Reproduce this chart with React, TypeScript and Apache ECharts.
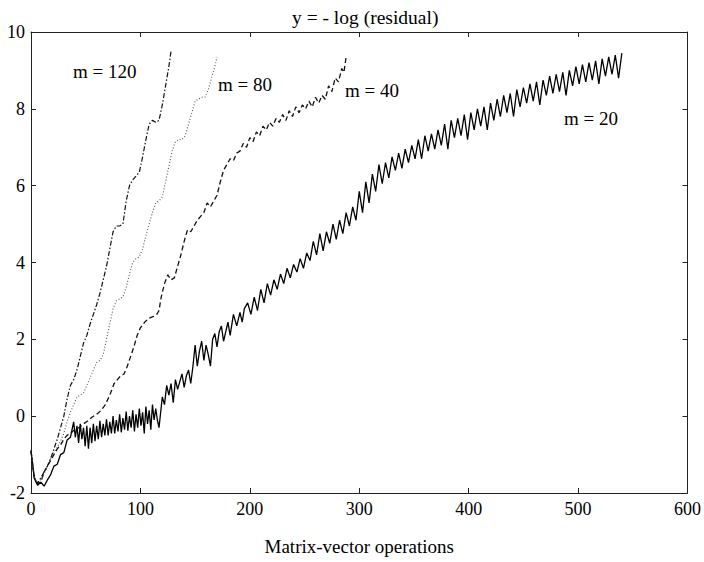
import { useEffect, useRef } from "react";
import * as echarts from "echarts";

const TITLE = "y = - log (residual)";
const X_NAME = "Matrix-vector operations";
const X_MIN = 0;
const X_MAX = 600;
const X_STEP = 100;
const Y_MIN = -2;
const Y_MAX = 10;
const Y_STEP = 2;

const curveNames = ["m = 20", "m = 40", "m = 80", "m = 120"];

const m20: [number, number][] = [
  [0, -0.9], [3, -1.62], [6, -1.8], [9, -1.72], [12, -1.82], [15, -1.66], [18, -1.52], [21, -1.3],
  [24, -1.25], [27, -1.0], [30, -0.95], [33, -0.62], [36, -0.55],
  [39, -0.15], [40.5, -0.55], [42, -0.25], [43.5, -0.7], [45, -0.2], [46.5, -0.6], [48, -0.3], [49.5, -0.78],
  [51, -0.25], [52.5, -0.85], [54, -0.3], [55.5, -0.7], [57, -0.2], [58.5, -0.65], [60, -0.25], [61.5, -0.6],
  [63, -0.12], [64.5, -0.55], [66, -0.2], [67.5, -0.5], [69, -0.08], [70.5, -0.5], [72, -0.15], [73.5, -0.45],
  [75, 0.0], [76.5, -0.45], [78, -0.1], [79.5, -0.4], [81, 0.05], [82.5, -0.42], [84, -0.05], [85.5, -0.35],
  [87, 0.12], [88.5, -0.38], [90, 0.0], [91.5, -0.3], [93, 0.15], [94.5, -0.4], [96, 0.05], [97.5, -0.3],
  [99, 0.2], [100.5, -0.25], [102, 0.1], [103.5, -0.45], [105, 0.25], [106.5, -0.2], [108, 0.15], [109.5, -0.35],
  [111, 0.3], [112.5, -0.1], [114, 0.2], [115.5, -0.1], [117, -0.3],
  [120, 0.5], [122, 0.3], [124, 0.8], [126, 0.55], [128, 0.85], [130, 0.35], [132, 0.95], [134, 0.7],
  [136, 0.9], [138, 1.1], [140, 0.75], [142, 1.05], [144, 1.2], [146, 0.85], [148, 1.3], [150, 1.85],
  [152, 1.3], [154, 1.7], [156, 1.95], [158, 1.45], [160, 1.85], [162, 1.6], [164, 1.3], [166, 2.0],
  [168, 2.15], [170, 1.8], [172, 2.2], [174, 2.35], [176, 1.95], [178, 2.2], [180, 2.45], [182, 2.1],
  [185, 2.65], [188, 2.35], [191, 2.7], [193, 2.45], [195, 2.8], [198, 2.95], [201, 2.65], [204, 3.1],
  [207, 2.75], [210, 3.3], [213, 2.95], [216, 3.45], [219, 3.15], [222, 3.55], [225, 3.3], [228, 3.7],
  [231, 3.45], [234, 3.85], [237, 3.6], [240, 3.95], [243, 3.75], [246, 4.1], [249, 3.85], [252, 4.25],
  [255, 4.05], [258, 4.55], [261, 4.2], [264, 4.75], [267, 4.3], [270, 4.8], [273, 4.5], [276, 5.0],
  [279, 4.6], [282, 5.1], [285, 4.75], [288, 5.3], [291, 4.95], [294, 5.45], [297, 5.1], [300, 5.85],
  [303, 5.3], [306, 6.1], [309, 5.55], [312, 6.3], [315, 5.85], [318, 6.55], [321, 6.05], [324, 6.6],
  [327, 6.2], [330, 6.75], [333, 6.4], [336, 6.85], [339, 6.45], [342, 6.95], [345, 6.6], [348, 7.05],
  [351, 6.7], [354, 7.2], [357, 6.7], [360, 7.3], [363, 6.9], [366, 7.35], [369, 6.95], [372, 7.45],
  [375, 7.05], [378, 7.6], [381, 6.95], [384, 7.7], [387, 7.25], [390, 7.75], [393, 7.3], [396, 7.85],
  [399, 7.2], [402, 7.9], [405, 7.45], [408, 8.0], [411, 7.55], [414, 8.05], [417, 7.45], [420, 8.15],
  [423, 7.7], [426, 8.25], [429, 7.8], [432, 8.35], [435, 7.9], [438, 8.4], [441, 7.8], [444, 8.5],
  [447, 8.05], [450, 8.55], [453, 8.15], [456, 8.65], [459, 8.2], [462, 8.7], [465, 8.1], [468, 8.75],
  [471, 8.35], [474, 8.85], [477, 8.4], [480, 8.9], [483, 8.45], [486, 8.95], [489, 8.35], [492, 9.0],
  [495, 8.6], [498, 9.1], [501, 8.65], [504, 9.15], [507, 8.7], [510, 9.2], [513, 8.75], [516, 9.25],
  [519, 8.65], [522, 9.3], [525, 8.85], [528, 9.35], [531, 8.9], [534, 9.4], [537, 8.8], [540, 9.45],
];

const m40: [number, number][] = [
  [0, -0.9], [3, -1.6], [6, -1.75], [9, -1.72], [12, -1.45], [15, -1.3], [18, -1.15], [21, -1.0],
  [24, -0.85], [27, -0.75], [30, -0.6], [33, -0.5], [36, -0.45], [40, -0.35], [44, -0.3], [48, -0.2],
  [52, -0.12], [56, -0.02], [60, 0.05], [64, 0.15], [68, 0.3], [72, 0.55], [76, 0.85], [79, 0.95],
  [82, 1.05], [85, 1.1], [88, 1.3], [91, 1.55], [94, 1.8], [97, 2.1], [100, 2.3], [104, 2.45],
  [108, 2.55], [112, 2.6], [115, 2.65], [117, 2.75], [119, 3.1], [122, 3.45], [125, 3.68], [128, 3.55],
  [131, 3.6], [134, 3.9], [137, 4.2], [140, 4.55], [143, 4.85], [146, 4.8], [149, 4.95], [152, 5.1],
  [155, 5.2], [158, 5.3], [161, 5.55], [164, 5.45], [167, 5.6], [170, 5.75], [173, 6.1], [176, 6.4],
  [179, 6.55], [182, 6.7], [185, 6.65], [188, 6.85], [191, 6.9], [194, 7.1], [197, 7.0], [200, 7.25],
  [203, 7.15], [206, 7.4], [209, 7.3], [212, 7.55], [215, 7.45], [218, 7.65], [221, 7.55], [224, 7.75],
  [227, 7.65], [230, 7.85], [233, 7.7], [236, 7.95], [239, 7.8], [242, 8.05], [245, 7.9], [248, 8.1],
  [251, 8.0], [254, 8.2], [257, 8.05], [260, 8.3], [263, 8.15], [266, 8.35], [269, 8.25], [272, 8.6],
  [275, 8.45], [278, 8.8], [281, 8.7], [284, 9.05], [286, 8.95], [288, 9.35],
];

const m80: [number, number][] = [
  [0, -0.9], [3, -1.6], [6, -1.72], [9, -1.65], [12, -1.5], [15, -1.3], [18, -1.1], [21, -0.95],
  [24, -0.8], [27, -0.65], [30, -0.45], [33, -0.15], [36, 0.1], [39, 0.3], [42, 0.5], [45, 0.55],
  [48, 0.6], [51, 0.8], [54, 1.0], [57, 1.2], [60, 1.4], [63, 1.45], [66, 1.6], [69, 2.0],
  [72, 2.4], [75, 2.8], [78, 3.0], [81, 3.05], [84, 3.1], [87, 3.35], [90, 3.7], [93, 4.0],
  [96, 4.1], [99, 4.15], [102, 4.35], [105, 4.7], [108, 5.0], [111, 5.3], [114, 5.55], [117, 5.6],
  [120, 5.7], [123, 6.1], [126, 6.5], [129, 6.9], [132, 7.15], [135, 7.2], [138, 7.2], [141, 7.3],
  [144, 7.6], [147, 7.9], [150, 8.2], [153, 8.25], [156, 8.3], [159, 8.3], [162, 8.5], [165, 8.8],
  [168, 9.1], [170, 9.35],
];

const m120: [number, number][] = [
  [0, -0.9], [3, -1.6], [6, -1.75], [9, -1.6], [12, -1.45], [15, -1.3], [18, -1.1], [21, -0.85],
  [24, -0.6], [27, -0.3], [30, 0.0], [33, 0.45], [36, 0.8], [39, 0.95], [42, 1.2], [45, 1.55],
  [48, 1.9], [51, 2.1], [54, 2.4], [57, 2.65], [60, 2.9], [63, 3.2], [66, 3.55], [69, 3.9],
  [72, 4.35], [75, 4.8], [78, 4.95], [81, 4.95], [84, 5.0], [87, 5.6], [90, 6.0], [93, 6.15],
  [96, 6.25], [99, 6.35], [102, 6.75], [105, 7.2], [108, 7.6], [111, 7.7], [114, 7.65], [117, 7.7],
  [120, 8.1], [123, 8.6], [126, 9.1], [128, 9.5],
];

const FONT = "'Liberation Serif', 'Times New Roman', serif";

export default function App() {
  const ref = useRef<HTMLDivElement>(null);

  useEffect(() => {
    document.body.style.margin = "0";
    if (!ref.current) return;
    const chart = echarts.init(ref.current, null, { renderer: "svg" });

    const axisLine = { show: true, onZero: false, lineStyle: { color: "#222", width: 1 } };
    const tick = { show: true, inside: true, length: 5, lineStyle: { color: "#222", width: 1 } };
    const label = { fontFamily: FONT, fontSize: 18, color: "#000" };

    const labelText = (text: string, x: number, y: number) => ({
      type: "text",
      left: x,
      top: y,
      style: { text, fontFamily: FONT, fontSize: 19, fill: "#000" },
    });

    chart.setOption({
      animation: false,
      backgroundColor: "#fff",
      grid: { left: 31, right: 15, top: 32, bottom: 69, containLabel: false },
      title: {
        text: TITLE,
        left: 287,
        top: 2,
        textStyle: { fontFamily: FONT, fontSize: 19.5, fontWeight: "normal", color: "#000" },
      },
      xAxis: [
        {
          type: "value",
          min: X_MIN,
          max: X_MAX,
          interval: X_STEP,
          position: "bottom",
          name: X_NAME,
          nameLocation: "middle",
          nameGap: 44,
          nameTextStyle: { fontFamily: FONT, fontSize: 19, color: "#000" },
          axisLine,
          axisTick: tick,
          axisLabel: { ...label, margin: 7 },
          splitLine: { show: false },
        },
        {
          type: "value",
          min: X_MIN,
          max: X_MAX,
          interval: X_STEP,
          position: "top",
          axisLine,
          axisTick: tick,
          axisLabel: { show: false },
          splitLine: { show: false },
        },
      ],
      yAxis: [
        {
          type: "value",
          min: Y_MIN,
          max: Y_MAX,
          interval: Y_STEP,
          position: "left",
          axisLine,
          axisTick: tick,
          axisLabel: { ...label, margin: 6 },
          splitLine: { show: false },
        },
        {
          type: "value",
          min: Y_MIN,
          max: Y_MAX,
          interval: Y_STEP,
          position: "right",
          axisLine,
          axisTick: tick,
          axisLabel: { show: false },
          splitLine: { show: false },
        },
      ],
      series: [
        {
          name: curveNames[0],
          type: "line",
          data: m20,
          showSymbol: false,
          lineStyle: { color: "#000", width: 1.3, type: "solid" },
        },
        {
          name: curveNames[1],
          type: "line",
          data: m40,
          showSymbol: false,
          lineStyle: { color: "#111", width: 1.3, type: [5, 3] },
        },
        {
          name: curveNames[2],
          type: "line",
          data: m80,
          showSymbol: false,
          lineStyle: { color: "#555", width: 1.1, type: [1, 2] },
        },
        {
          name: curveNames[3],
          type: "line",
          data: m120,
          showSymbol: false,
          lineStyle: { color: "#111", width: 1.2, type: [5, 2, 1.5, 2] },
        },
      ],
      graphic: [
        labelText(curveNames[3], 73, 62),
        labelText(curveNames[2], 218, 75),
        labelText(curveNames[1], 345, 81),
        labelText(curveNames[0], 564, 109),
      ],
    });

    return () => chart.dispose();
  }, []);

  return <div ref={ref} style={{ width: 704, height: 562 }} />;
}
